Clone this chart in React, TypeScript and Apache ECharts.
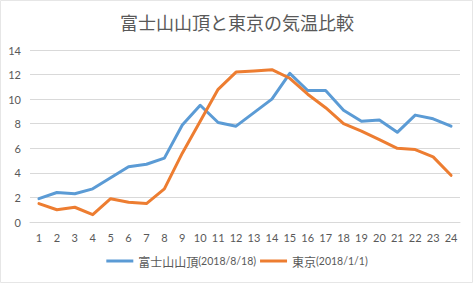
import React, { useEffect, useRef } from "react";
import * as echarts from "echarts";

// Hourly temperatures (°C), hours 1–24
const hours = ["1","2","3","4","5","6","7","8","9","10","11","12","13","14","15","16","17","18","19","20","21","22","23","24"];
const fujiTemps = [1.9, 2.4, 2.3, 2.7, 3.6, 4.5, 4.7, 5.2, 7.9, 9.5, 8.1, 7.8, 8.9, 10.0, 12.1, 10.7, 10.7, 9.1, 8.2, 8.3, 7.3, 8.7, 8.4, 7.8];
const tokyoTemps = [1.5, 1.0, 1.2, 0.6, 1.9, 1.6, 1.5, 2.7, 5.6, 8.2, 10.8, 12.2, 12.3, 12.4, 11.7, 10.4, 9.3, 8.0, 7.4, 6.7, 6.0, 5.9, 5.3, 3.8];
const seriesNames = ["富士山山頂(2018/8/18)", "東京(2018/1/1)"];
const titleText = "富士山山頂と東京の気温比較";

const TEXT = "#595959";
const CJK = "'Noto Sans CJK JP', sans-serif";
const LATIN = "Lato, 'Noto Sans CJK JP', sans-serif";

// Split a legend name into its Japanese part and its "(date)" part so each gets its own font
function legendLabel(name: string) {
  const i = name.indexOf("(");
  if (i < 0) return `{j|${name}}`;
  return `{j|${name.slice(0, i)}}{d|${name.slice(i)}}`;
}

export default function App() {
  const ref = useRef<HTMLDivElement>(null);

  useEffect(() => {
    if (!ref.current) return;
    const chart = echarts.init(ref.current, null, { renderer: "svg" });
    chart.setOption({
      animation: false,
      backgroundColor: "#ffffff",
      textStyle: { fontFamily: LATIN },
      title: {
        text: titleText,
        left: "center",
        top: 8,
        textStyle: { color: TEXT, fontSize: 18, fontWeight: "normal", fontFamily: CJK },
      },
      graphic: [
        {
          type: "rect",
          shape: { x: 0.5, y: 0.5, width: 472, height: 282 },
          style: { fill: "none", stroke: "#e6e6e6", lineWidth: 1 },
          silent: true,
        },
      ],
      legend: {
        bottom: 12,
        left: "center",
        icon: "rect",
        itemWidth: 27,
        itemHeight: 3,
        itemGap: 4,
        formatter: legendLabel,
        textStyle: {
          color: TEXT,
          fontSize: 12,
          fontFamily: CJK,
          rich: {
            j: { color: TEXT, fontSize: 12, fontFamily: CJK },
            d: { color: TEXT, fontSize: 10.5, fontFamily: LATIN },
          },
        },
        data: seriesNames,
      },
      grid: { left: 30, right: 14, top: 50, bottom: 62 },
      xAxis: {
        type: "category",
        data: hours,
        boundaryGap: true,
        axisLine: { show: true, lineStyle: { color: "#d9d9d9" } },
        axisTick: { show: false },
        axisLabel: { color: TEXT, fontSize: 11, margin: 10, fontFamily: LATIN },
      },
      yAxis: {
        type: "value",
        min: 0,
        max: 14,
        interval: 2,
        axisLine: { show: false },
        axisTick: { show: false },
        axisLabel: { color: TEXT, fontSize: 11, margin: 9, fontFamily: LATIN },
        splitLine: { lineStyle: { color: "#d9d9d9", width: 1 } },
      },
      series: [
        {
          name: seriesNames[0],
          type: "line",
          data: fujiTemps,
          showSymbol: false,
          symbol: "none",
          lineStyle: { color: "#5B9BD5", width: 3, join: "round", cap: "round" },
          itemStyle: { color: "#5B9BD5" },
        },
        {
          name: seriesNames[1],
          type: "line",
          data: tokyoTemps,
          showSymbol: false,
          symbol: "none",
          lineStyle: { color: "#ED7D31", width: 3, join: "round", cap: "round" },
          itemStyle: { color: "#ED7D31" },
        },
      ],
    });
    return () => chart.dispose();
  }, []);

  return (
    <div
      ref={ref}
      style={{ width: 474, height: 284, position: "absolute", left: 0, top: 0 }}
    />
  );
}
